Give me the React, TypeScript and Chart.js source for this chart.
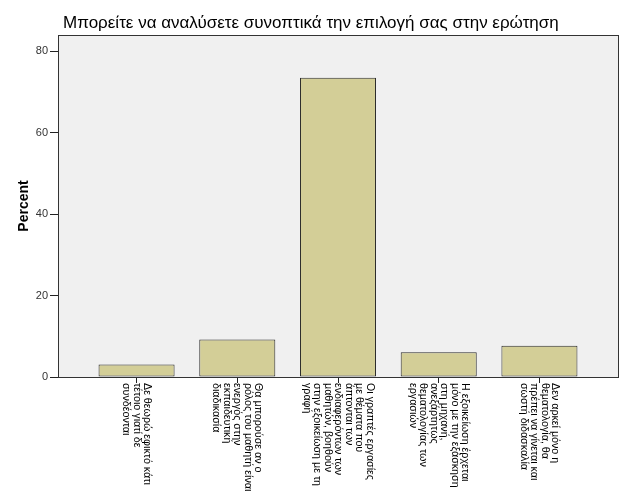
import React, { useEffect, useRef } from "react";
import { Chart, registerables } from "chart.js";

Chart.register(...registerables);

const TITLE = "Μπορείτε να αναλύσετε συνοπτικά την επιλογή σας στην ερώτηση";
const Y_TITLE = "Percent";

const categories: string[][] = [
  ["Δε θεωρώ εφικτό κάτι", "τέτοιο γιατί δε", "συνδέονται"],
  ["Θα μπορούσε αν ο", "ρόλος του μαθητή είναι", "ενεργός στην", "εκπαιδευτική", "διαδικασία"],
  [
    "Οι γραπτές εργασίες",
    "με θέματα που",
    "άπτονται των",
    "ενδιαφερόντων των",
    "μαθητών, βοηθούν",
    "στην εξοικείωση με τη",
    "γραφή",
  ],
  [
    "Η εξοικείωση έρχεται",
    "μόνο με την εξάσκηση",
    "στη μηχανή,",
    "ανεξάρτητως",
    "θεματολογίας των",
    "εργασιών",
  ],
  ["Δεν αρκεί μόνο η", "θεματολογία, θα", "πρέπει να γίνεται και", "σωστή διδασκαλία"],
];

const percents = [3.1, 9.2, 73.5, 6.1, 7.7];
const yTicks = [0, 20, 40, 60, 80];

const FONT = '"Liberation Sans", Arial, sans-serif';

export default function App() {
  const ref = useRef<HTMLCanvasElement | null>(null);

  useEffect(() => {
    if (!ref.current) return;

    const framePlugin = {
      id: "frame",
      beforeDraw(chart: any) {
        const { ctx, chartArea: a } = chart;
        ctx.save();
        ctx.fillStyle = "#f0f0f0";
        ctx.fillRect(a.left, a.top, a.right - a.left, a.bottom - a.top);
        ctx.restore();
      },
      afterDraw(chart: any) {
        const { ctx, chartArea: a } = chart;
        ctx.save();
        ctx.strokeStyle = "#333";
        ctx.lineWidth = 1;
        ctx.strokeRect(
          Math.round(a.left) + 0.5,
          Math.round(a.top) + 0.5,
          Math.round(a.right - a.left),
          Math.round(a.bottom - a.top)
        );

        // title
        ctx.fillStyle = "#000";
        ctx.font = `17px ${FONT}`;
        ctx.textAlign = "left";
        ctx.textBaseline = "alphabetic";
        ctx.fillText(TITLE, 63, 28);

        // x category labels, rotated to read top-to-bottom
        const xs = chart.scales.x;
        ctx.font = `10.7px ${FONT}`;
        ctx.textBaseline = "middle";
        const lh = 10.5;
        categories.forEach((lines, i) => {
          const px = xs.getPixelForValue(i);
          ctx.save();
          ctx.translate(px, a.bottom + 6);
          ctx.rotate(Math.PI / 2);
          const n = lines.length;
          lines.forEach((line, j) => {
            ctx.fillText(line, 0, (j - (n - 1) / 2) * lh);
          });
          ctx.restore();
        });
        ctx.restore();
      },
    };

    const chart = new Chart(ref.current, {
      type: "bar",
      data: {
        datasets: [
          {
            label: Y_TITLE,
            data: percents.map((v, i) => ({ x: i, y: v })),
            backgroundColor: "#d3ce97",
            borderColor: "#2a2a2a",
            borderWidth: 1,
            borderSkipped: false,
            categoryPercentage: 1,
            barPercentage: 0.755,
          },
        ],
      },
      options: {
        responsive: false,
        animation: false,
        devicePixelRatio: 1,
        layout: { padding: { top: 35, right: 8, left: 0, bottom: 0 } },
        plugins: {
          legend: { display: false },
          tooltip: { enabled: false },
          title: { display: false },
        },
        scales: {
          x: {
            type: "linear",
            offset: false,
            min: -0.78,
            max: 4.78,
            afterBuildTicks: (s: any) => {
              s.ticks = categories.map((_, i) => ({ value: i }));
            },
            afterFit: (s: any) => {
              s.height = 124;
            },
            ticks: { display: false },
            grid: {
              offset: false,
              drawOnChartArea: false,
              drawTicks: true,
              tickLength: 6,
              color: "#222",
            },
            border: { display: true, color: "#333" },
          },
          y: {
            min: 0,
            max: 84,
            afterBuildTicks: (s: any) => {
              s.ticks = yTicks.map((v) => ({ value: v }));
            },
            afterFit: (s: any) => {
              s.width = 58;
            },
            ticks: {
              color: "#333",
              font: { family: FONT, size: 11 },
              padding: 2,
            },
            grid: {
              drawOnChartArea: false,
              drawTicks: true,
              tickLength: 8,
              color: "#222",
            },
            border: { display: true, color: "#333" },
            title: {
              display: true,
              text: Y_TITLE,
              color: "#000",
              font: { family: FONT, size: 14, weight: "bold" },
              padding: { top: 16, bottom: 0 },
            },
          },
        },
      },
      plugins: [framePlugin],
    } as any);

    return () => chart.destroy();
  }, []);

  return (
    <div style={{ position: "absolute", left: 0, top: 0, width: 626, height: 501, background: "#fff" }}>
      <canvas ref={ref} width={626} height={501} style={{ display: "block" }} />
    </div>
  );
}
